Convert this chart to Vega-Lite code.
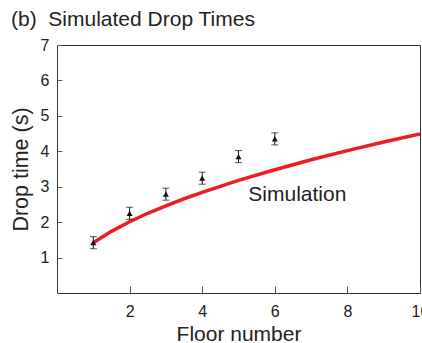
{
  "$schema": "https://vega.github.io/schema/vega-lite/v6.json",
  "autosize": "none",
  "width": 363,
  "height": 248,
  "padding": {"left": 57, "top": 45, "right": 2, "bottom": 50},
  "background": "white",
  "config": {
    "font": "Liberation Sans",
    "view": {"stroke": "#333", "strokeWidth": 1},
    "axis": {"grid": false, "domain": false, "labelFont": "Liberation Sans", "titleFont": "Liberation Sans", "labelColor": "#222", "titleColor": "#222", "titleFontWeight": "normal", "tickColor": "#555", "labelFlush": false, "labelOverlap": false}
  },
  "title": {"text": "(b)\u00a0\u00a0Simulated Drop Times", "anchor": "start", "frame": "group", "dx": -46, "dy": 27, "offset": 17, "baseline": "alphabetic", "fontSize": 21, "fontWeight": "normal", "color": "#222", "font": "Liberation Sans"},
  "datasets": {
    "sim": [
      {"floor": 1, "t": 1.42}, {"floor": 1.5, "t": 1.74}, {"floor": 2, "t": 2.01}, {"floor": 2.5, "t": 2.25},
      {"floor": 3, "t": 2.46}, {"floor": 3.5, "t": 2.66}, {"floor": 4, "t": 2.84}, {"floor": 5, "t": 3.18},
      {"floor": 6, "t": 3.48}, {"floor": 7, "t": 3.76}, {"floor": 8, "t": 4.02}, {"floor": 9, "t": 4.26}, {"floor": 10, "t": 4.49}
    ],
    "obs": [
      {"floor": 1, "t": 1.42, "lo": 1.25, "hi": 1.59},
      {"floor": 2, "t": 2.25, "lo": 2.08, "hi": 2.42},
      {"floor": 3, "t": 2.79, "lo": 2.62, "hi": 2.96},
      {"floor": 4, "t": 3.24, "lo": 3.07, "hi": 3.41},
      {"floor": 5, "t": 3.85, "lo": 3.68, "hi": 4.02},
      {"floor": 6, "t": 4.35, "lo": 4.18, "hi": 4.52}
    ],
    "lbl": [{"floor": 5.27, "t": 2.6, "text": "Simulation"}]
  },
  "layer": [
    {
      "data": {"name": "sim"},
      "mark": {"type": "line", "color": "#ee1c24", "strokeWidth": 3.5, "clip": true},
      "encoding": {
        "x": {"field": "floor", "type": "quantitative", "scale": {"domain": [0, 10], "nice": false},
          "axis": {"title": "Floor number", "values": [2, 4, 6, 8, 10], "tickSize": -7, "labelFontSize": 16, "titleFontSize": 21, "labelPadding": 17, "titleY": 47, "titleBaseline": "alphabetic"}},
        "y": {"field": "t", "type": "quantitative", "scale": {"domain": [0, 7], "nice": false},
          "axis": {"title": "Drop time (s)", "values": [1, 2, 3, 4, 5, 6, 7], "tickSize": -5, "labelFontSize": 16, "titleFontSize": 21.5, "labelPadding": 13, "titleX": -30, "titleY": 124, "titleAngle": -90, "titleAlign": "center", "titleBaseline": "alphabetic"}}
      }
    },
    {
      "data": {"name": "obs"},
      "mark": {"type": "rule", "color": "#111", "strokeWidth": 1},
      "encoding": {"x": {"field": "floor", "type": "quantitative"}, "y": {"field": "lo", "type": "quantitative"}, "y2": {"field": "hi"}}
    },
    {
      "data": {"name": "obs"},
      "mark": {"type": "tick", "color": "#111", "orient": "horizontal", "size": 7, "thickness": 1},
      "encoding": {"x": {"field": "floor", "type": "quantitative"}, "y": {"field": "lo", "type": "quantitative"}}
    },
    {
      "data": {"name": "obs"},
      "mark": {"type": "tick", "color": "#111", "orient": "horizontal", "size": 7, "thickness": 1},
      "encoding": {"x": {"field": "floor", "type": "quantitative"}, "y": {"field": "hi", "type": "quantitative"}}
    },
    {
      "data": {"name": "obs"},
      "mark": {"type": "point", "shape": "triangle-up", "filled": true, "color": "#111", "size": 36, "opacity": 1},
      "encoding": {"x": {"field": "floor", "type": "quantitative"}, "y": {"field": "t", "type": "quantitative"}}
    },
    {
      "data": {"name": "lbl"},
      "mark": {"type": "text", "align": "left", "baseline": "alphabetic", "fontSize": 21, "color": "#222", "font": "Liberation Sans"},
      "encoding": {"x": {"field": "floor", "type": "quantitative"}, "y": {"field": "t", "type": "quantitative"}, "text": {"field": "text"}}
    },
    {
      "mark": {"type": "rule", "color": "#111", "strokeWidth": 2.5},
      "encoding": {"y": {"datum": 7}}
    },
    {
      "mark": {"type": "rule", "color": "#111", "strokeWidth": 2.5},
      "encoding": {"y": {"datum": 0}}
    }
  ]
}
